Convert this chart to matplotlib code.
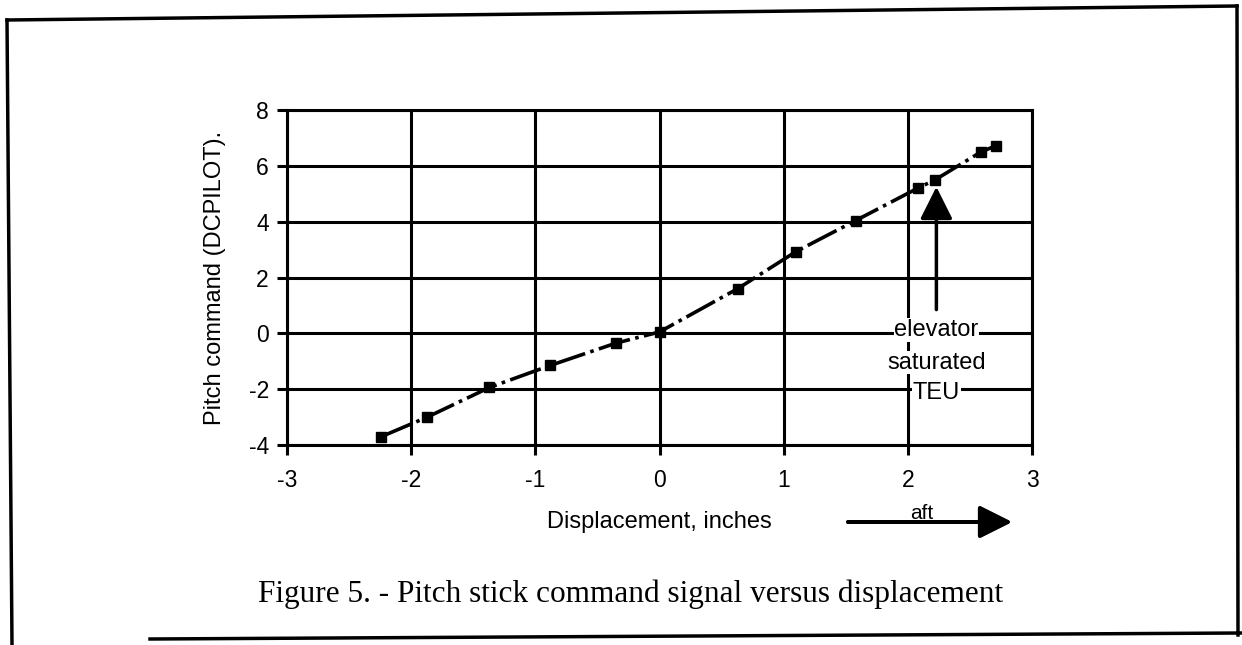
import matplotlib
matplotlib.use("Agg")
import matplotlib.pyplot as plt
from matplotlib.lines import Line2D

# valores
deslocamento = [-2.24, -1.87, -1.37, -0.88, -0.35, 0.0, 0.63, 1.10, 1.58, 2.08, 2.22, 2.59, 2.71]
comando = [-3.70, -3.00, -1.94, -1.15, -0.35, 0.05, 1.60, 2.93, 4.04, 5.20, 5.50, 6.50, 6.72]
xticks = [-3, -2, -1, 0, 1, 2, 3]
yticks = [-4, -2, 0, 2, 4, 6, 8]
nota = ["elevator", "saturated", "TEU"]
nota_y = [0.12, -1.05, -2.15]

plt.rcParams['font.family'] = ['Liberation Sans', 'DejaVu Sans']
plt.rcParams['axes.unicode_minus'] = False

W, H = 1242, 645
fig = plt.figure(figsize=(W / 100, H / 100), dpi=100)
ax = fig.add_axes([287 / W, 1 - 445 / H, 745 / W, 335 / H])

ax.set_xlim(-3, 3)
ax.set_ylim(-4, 8)
ax.set_xticks(xticks)
ax.set_yticks(yticks)
ax.grid(True, color='black', linewidth=2.2)
ax.set_axisbelow(True)
for s in ax.spines.values():
    s.set_linewidth(2.2)
ax.tick_params(axis='x', direction='out', length=7, width=2.2, pad=10, labelsize=16.5)
ax.tick_params(axis='y', direction='out', length=7, width=2.2, pad=6, labelsize=16.5)

# linha traco-ponto com marcadores quadrados
ax.plot(deslocamento, comando, color='black', linewidth=2.6,
        linestyle=(0, (9, 1.5, 1, 1.5)), marker='s', markersize=6.5,
        zorder=3)

ax.set_xlabel('Displacement, inches', fontsize=17, labelpad=14)
ax.set_ylabel('Pitch command (DCPILOT).', fontsize=17, labelpad=16)

# seta de saturacao
ax.annotate('', xy=(2.23, 5.25), xytext=(2.23, 0.85),
            arrowprops=dict(arrowstyle='-|>,head_length=1.0,head_width=0.5',
                            mutation_scale=20, color='black', lw=2.5,
                            shrinkA=0, shrinkB=0), zorder=4)
for txt, yy in zip(nota, nota_y):
    ax.text(2.23, yy, txt, ha='center', va='center', fontsize=17, zorder=5,
            bbox=dict(facecolor='white', edgecolor='none', pad=0.5))

# seta "aft"
fig.add_artist(plt.annotate('', xy=(1012 / W, 1 - 522 / H), xytext=(848 / W, 1 - 522 / H),
                            xycoords='figure fraction', textcoords='figure fraction',
                            arrowprops=dict(arrowstyle='-|>,head_length=1.0,head_width=0.5',
                                            mutation_scale=20, color='black', lw=2.8,
                                            shrinkA=0, shrinkB=0)))
fig.text(922 / W, 1 - 519 / H, 'aft', ha='center', va='baseline', fontsize=15)

fig.text(0.508, 1 - 602 / H, 'Figure 5. - Pitch stick command signal versus displacement',
         ha='center', va='baseline', fontsize=22.5, family=['Liberation Serif', 'DejaVu Serif'])

# moldura
def linha(x0, y0, x1, y1):
    fig.add_artist(Line2D([x0 / W, x1 / W], [1 - y0 / H, 1 - y1 / H],
                          transform=fig.transFigure, color='black', linewidth=2.5))

linha(7, 20, 1237, 6)
linha(7, 20, 12, 645)
linha(1237, 6, 1238, 635)
linha(150, 639, 1242, 633)

fig.savefig('out.png', dpi=100)
